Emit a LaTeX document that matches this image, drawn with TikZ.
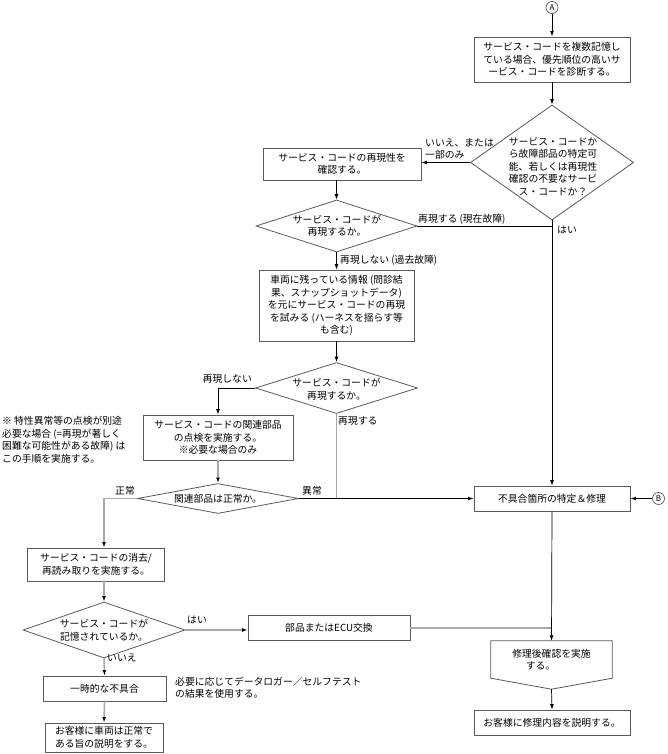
\documentclass[tikz,border=0pt]{standalone}
\usepackage{fontspec}
\newfontfamily\jpfont{Noto Sans CJK JP}
\usetikzlibrary{arrows.meta,shapes.geometric,calc}
\definecolor{bordc}{HTML}{5A5A5A}
\definecolor{lgray}{HTML}{A8A8A8}
\begin{document}
\begin{tikzpicture}[x=1pt,y=-1pt,
  every node/.style={font=\jpfont\fontsize{9.8}{12.5}\selectfont, inner sep=0pt, align=center, text=black},
  box/.style={draw=bordc, line width=0.8pt, rectangle},
  dia/.style={draw=bordc, line width=0.8pt, diamond},
  conn/.style={draw=black, line width=0.7pt},
  gconn/.style={draw=lgray, line width=1.5pt},
  arr/.style={-{Latex[length=5.5pt,width=3.8pt,color=black]}},
  circ/.style={draw=bordc, circle, line width=0.7pt, minimum size=12pt, font=\jpfont\fontsize{8}{8}\selectfont},
]
\useasboundingbox (0,0) rectangle (667,754);
\fill[white] (0,0) rectangle (667,754);

% nodes
\node[circ] (A) at (552,7.5) {A};
\node[box, minimum width=156pt, minimum height=45pt] (b1) at (552,59.5)
  {サービス・コードを複数記憶し\\ている場合、優先順位の高いサ\\ービス・コードを診断する。};
\node[dia, minimum width=163pt, minimum height=115pt] (d1) at (552,162.5) {};
\node (d1t) at (553,166.5) {サービス・コードか\\ら故障部品の特定可\\能、若しくは再現性\\確認の不要なサービ\\ス・コードか？};
\node[box, minimum width=158pt, minimum height=32pt] (b2) at (342,164)
  {サービス・コードの再現性を\\確認する。};
\node[dia, minimum width=161pt, minimum height=52pt] (d2) at (336.5,226) {};
\node (d2t) at (337,226) {サービス・コードが\\再現するか。};
\node[box, minimum width=155pt, minimum height=71pt] (b3) at (336.5,305.5)
  {車両に残っている情報 (問診結\\果、スナップショットデータ)\\を元にサービス・コードの再現\\を試みる (ハーネスを揺らす等\\も含む)};
\node[dia, minimum width=162pt, minimum height=51pt] (d3) at (336.5,388) {};
\node (d3t) at (336.5,389.5) {サービス・コードが\\再現するか。};
\node[box, minimum width=150pt, minimum height=45pt] (b4) at (218,437.5)
  {サービス・コードの関連部品\\の点検を実施する。\\※必要な場合のみ};
\node[dia, minimum width=161pt, minimum height=30pt] (d4) at (218,498.5) {};
\node (d4t) at (218,498.5) {関連部品は正常か。};
\node[box, minimum width=156pt, minimum height=25pt] (fix) at (552,498.5) {不具合箇所の特定＆修理};
\node[circ] (B) at (658.5,498.5) {B};
\node[box, minimum width=137pt, minimum height=33pt] (b5) at (96,564.5)
  {サービス・コードの消去/\\再読み取りを実施する。};
\node[dia, minimum width=162pt, minimum height=56pt] (d5) at (104,630) {};
\node (d5t) at (104,630) {サービス・コードが\\記憶されているか。};
\node[box, minimum width=162pt, minimum height=25pt] (bu) at (329,628) {部品またはECU交換};
\node[box, minimum width=123pt, minimum height=25pt] (ic) at (104.5,688.5) {一時的な不具合};
\node[box, minimum width=118pt, minimum height=29pt] (cu) at (104,737.5)
  {お客様に車両は正常で\\ある旨の説明をする。};
\node[minimum width=121pt, minimum height=37pt] (rep) at (551.5,659.5) {修理後確認を実施\\する。\hspace*{22pt}};
\coordinate (reptip) at ($(rep.south)+(0,11)$);
\draw[bordc, line width=0.8pt] (rep.north west) -- (rep.north east) -- (rep.south east)
  -- (reptip) -- (rep.south west) -- cycle;
\node[box, minimum width=156pt, minimum height=25pt] (fin) at (552,722.5) {お客様に修理内容を説明する。};

% labels
\node[anchor=west, align=left] (l1) at (425,149) {いいえ、または\\一部のみ};
\node[anchor=west] (l2) at (418,219) {再現する (現在故障)};
\node[anchor=west] (l3) at (557,230) {はい};
\node[anchor=west] (l4) at (340,260) {再現しない (過去故障)};
\node[anchor=east] (l5) at (252,379) {再現しない};
\node[anchor=west] (l6) at (338,421) {再現する};
\node (l7) at (125,491) {正常};
\node (l8) at (312,491) {異常};
\node (l9) at (197,620) {はい};
\node[anchor=west] (l10) at (107,658) {いいえ};
\node[anchor=west, align=left] (n1) at (175,687.5) {必要に応じてデータロガー／セルフテスト\\の結果を使用する。};
\node[anchor=west, align=left] (n2) at (2,440) {※ 特性異常等の点検が別途\\必要な場合 (=再現が著しく\\困難な可能性がある故障) は\\この手順を実施する。};

% connectors
\draw[conn,arr] (A.south) -- (b1.north);
\draw[conn,arr] (b1.south) -- (d1.north);
\draw[conn,arr] (d1.west) -- (d1.west -| b2.east);
\draw[conn,arr] (d1.south) -- (fix.north);
\draw[conn] (d2.east) -- (d2.east -| d1.south);
\draw[conn,arr] (d2.north |- b2.south) -- (d2.north);
\draw[conn,arr] (d2.south) -- (b3.north);
\draw[conn,arr] (b3.south) -- (d3.north);
\draw[conn,arr] (d3.west) -| (b4.north);
\draw[gconn] (d3.south) -- (d3.south |- fix.west);
\draw[conn,arr] (d4.east) -- (fix.west);
\draw[gconn,arr] (b4.south) -- (d4.north);
\draw[gconn,arr] (d4.west) -| (d5.north |- b5.north);
\draw[gconn,arr] (d5.north |- b5.south) -- (d5.north);
\draw[gconn,arr] (d5.east) -- (d5.east -| bu.west);
\draw[gconn,arr] (d5.south) -- (ic.north);
\draw[gconn,arr] (ic.south) -- (cu.north);
\draw[gconn] (bu.east) -- (bu.east -| fix.south);
\draw[conn,arr] (fix.south) -- (rep.north);
\draw[conn,arr] (reptip) -- (fin.north);
\draw[conn,arr] (B.west) -- (fix.east);
\end{tikzpicture}
\end{document}
